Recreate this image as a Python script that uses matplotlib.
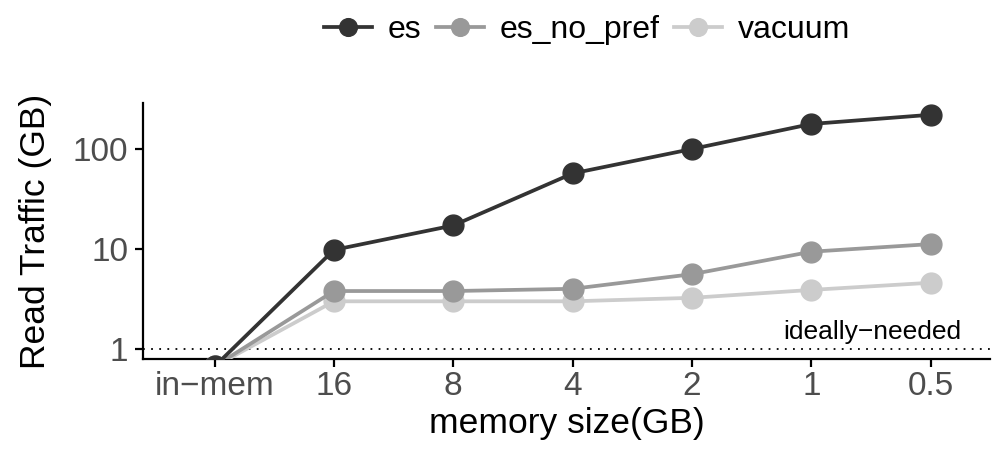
import matplotlib.pyplot as plt

plt.rcParams['font.family'] = ['Liberation Sans', 'DejaVu Sans']

# data
mem_sizes = ['in\u2212mem', '16', '8', '4', '2', '1', '0.5']
es = [0.67, 9.8, 17.2, 57, 100, 178, 220]
es_no_pref = [0.67, 3.8, 3.8, 4.0, 5.6, 9.4, 11.2]
vacuum = [0.67, 3.0, 3.0, 3.0, 3.25, 3.9, 4.6]
ideal = 1.0

series = [('es', es, '#333333'),
          ('es_no_pref', es_no_pref, '#999999'),
          ('vacuum', vacuum, '#cccccc')]

fig = plt.figure(figsize=(9.97, 4.49), dpi=100)
ax = fig.add_axes([0.1434, 0.2004, 0.85, 0.5702])

x = list(range(len(mem_sizes)))
# lightest first so the darker series sit on top
for name, vals, col in reversed(series):
    ax.plot(x, vals, color=col, lw=2.7, marker='o', markersize=15,
            label=name, zorder=3)

ax.axhline(ideal, color='black', lw=1.3, ls=(0, (1, 3.5)), zorder=1)
ax.text(6.26, ideal * 1.13, 'ideally\u2212needed', ha='right', va='bottom',
        fontsize=19)

ax.set_yscale('log')
ax.set_ylim(10 ** -0.1, 10 ** 2.46)
ax.set_xlim(-0.6, 6.5)
ax.set_yticks([1, 10, 100])
ax.set_yticklabels(['1', '10', '100'])
ax.minorticks_off()
ax.set_xticks(x)
ax.set_xticklabels(mem_sizes)

for s in ['top', 'right']:
    ax.spines[s].set_visible(False)
for s in ['left', 'bottom']:
    ax.spines[s].set_linewidth(1.6)
ax.tick_params(axis='both', labelsize=24, labelcolor='#4d4d4d',
               length=5.5, width=1.6)
ax.tick_params(axis='x', pad=3)
ax.tick_params(axis='y', pad=5)

ax.set_xlabel('memory size(GB)', fontsize=25.5, labelpad=4)
ax.set_ylabel('Read Traffic (GB)', fontsize=25.5, labelpad=15)

h, l = ax.get_legend_handles_labels()
fig.legend(h[::-1], l[::-1], loc='center', bbox_to_anchor=(0.589, 0.933),
           ncol=3, frameon=False, fontsize=23, handlelength=1.5,
           handletextpad=0.5, columnspacing=0.45, markerscale=0.85)

fig.savefig('out.png', dpi=100)
